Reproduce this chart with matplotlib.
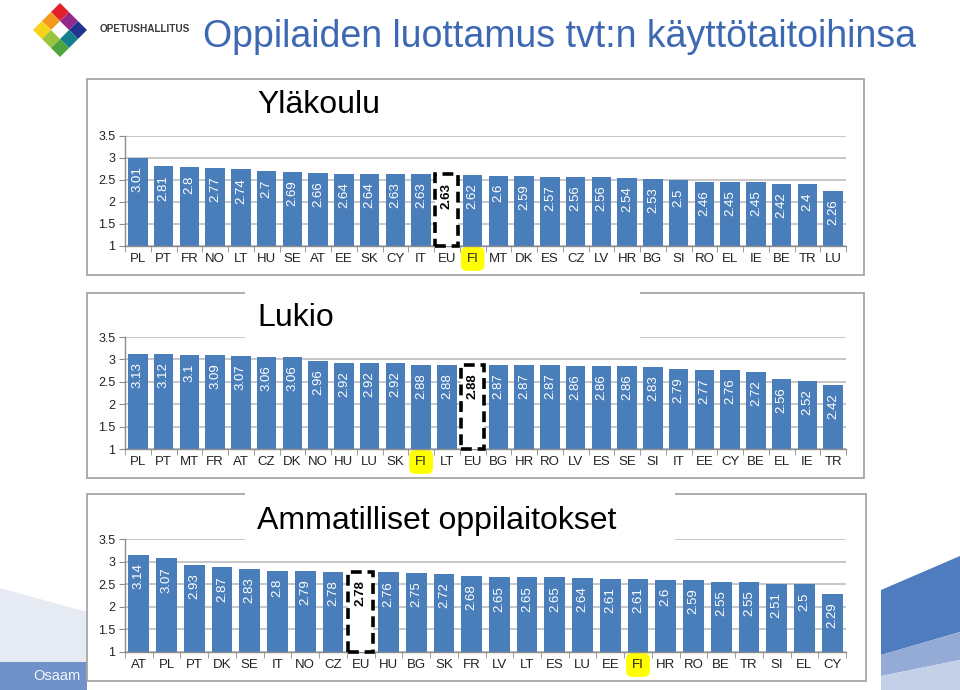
import matplotlib
matplotlib.use("Agg")
import matplotlib.pyplot as plt
from matplotlib.patches import Rectangle, Polygon

plt.rcParams['font.family'] = ['Liberation Sans', 'DejaVu Sans']

title = "Oppilaiden luottamus tvt:n käyttötaitoihinsa"

# Yläkoulu
yk_labels = ["PL", "PT", "FR", "NO", "LT", "HU", "SE", "AT", "EE", "SK", "CY", "IT", "EU", "FI",
             "MT", "DK", "ES", "CZ", "LV", "HR", "BG", "SI", "RO", "EL", "IE", "BE", "TR", "LU"]
yk_values = [3.01, 2.81, 2.8, 2.77, 2.74, 2.7, 2.69, 2.66, 2.64, 2.64, 2.63, 2.63, 2.63, 2.62,
             2.6, 2.59, 2.57, 2.56, 2.56, 2.54, 2.53, 2.5, 2.46, 2.45, 2.45, 2.42, 2.4, 2.26]

# Lukio
lu_labels = ["PL", "PT", "MT", "FR", "AT", "CZ", "DK", "NO", "HU", "LU", "SK", "FI", "LT", "EU",
             "BG", "HR", "RO", "LV", "ES", "SE", "SI", "IT", "EE", "CY", "BE", "EL", "IE", "TR"]
lu_values = [3.13, 3.12, 3.1, 3.09, 3.07, 3.06, 3.06, 2.96, 2.92, 2.92, 2.92, 2.88, 2.88, 2.88,
             2.87, 2.87, 2.87, 2.86, 2.86, 2.86, 2.83, 2.79, 2.77, 2.76, 2.72, 2.56, 2.52, 2.42]

# Ammatilliset oppilaitokset
am_labels = ["AT", "PL", "PT", "DK", "SE", "IT", "NO", "CZ", "EU", "HU", "BG", "SK", "FR",
             "LV", "LT", "ES", "LU", "EE", "FI", "HR", "RO", "BE", "TR", "SI", "EL", "CY"]
am_values = [3.14, 3.07, 2.93, 2.87, 2.83, 2.8, 2.79, 2.78, 2.78, 2.76, 2.75, 2.72, 2.68,
             2.65, 2.65, 2.65, 2.64, 2.61, 2.61, 2.6, 2.59, 2.55, 2.55, 2.51, 2.5, 2.29]

yticks = [1, 1.5, 2, 2.5, 3, 3.5]

W, H = 960, 690
fig = plt.figure(figsize=(W / 100, H / 100), dpi=100)


def fx(x):
    return x / W


def fy(y):
    return 1 - y / H


def fig_poly(pts, color, z):
    fig.patches.append(Polygon([(fx(a), fy(b)) for a, b in pts], closed=True,
                               transform=fig.transFigure, fc=color, ec='none', zorder=z))


def fig_rect(x0, y0, x1, y1, fc, ec='none', lw=0, z=-1):
    r = Rectangle((fx(x0), fy(y1)), fx(x1) - fx(x0), fy(y0) - fy(y1),
                  transform=fig.transFigure, fc=fc, ec=ec, lw=lw, zorder=z)
    fig.patches.append(r)
    return r


# slide decorations
fig_poly([(0, 588), (87, 612), (87, 662), (0, 662)], '#E6EAF3', -5)
band = fig_rect(0, 662, 87, 690, '#7092C8', z=-4)
t = fig.text(fx(33), fy(676), "Osaam", fontsize=10.5,
             color='#F2F5FB', va='center', ha='left', zorder=-3)
t.set_clip_path(band)
fig_poly([(881, 590), (960, 556), (960, 632), (881, 655)], '#4F7BBF', -5)
fig_poly([(881, 655), (960, 632), (960, 660), (881, 676)], '#93ABD5', -5)
fig_poly([(881, 676), (960, 660), (960, 690), (881, 690)], '#C3D0E8', -5)

# logo: diamond of coloured squares, white centre
cx, cy, d = 60, 30, 9
logo_cols = {(0, -2): '#E3202A', (-1, -1): '#F39A1E', (1, -1): '#932A8A',
             (-2, 0): '#F7D31B', (2, 0): '#21348F',
             (-1, 1): '#9BC43C', (1, 1): '#157F8C', (0, 2): '#4CA63C'}
for (i, j), c in logo_cols.items():
    px = cx + i * d
    py = cy + j * d
    fig_poly([(px, py - d), (px + d, py), (px, py + d), (px - d, py)], c, 1)
fig.text(fx(100), fy(29), "OPETUSHALLITUS", fontsize=7.2, weight='bold', color='#3A3A3A',
         va='center', ha='left')

fig.text(fx(203), fy(37), title, fontsize=27, color='#3D68B2', va='center', ha='left')


def panel(frame, ax_y, name, name_y, gap, labels, values):
    x0, y0, x1, y1 = frame
    fig_rect(x0, y0, x1, y1, 'white', ec='#A6A6A6', lw=1.3, z=-1)
    if gap is not None:
        fig_rect(gap[0], y0 - 4, gap[1], ax_y[0] + 4, 'white', z=1)
    fig.text(fx(257), fy(name_y), name, fontsize=23, color='black', va='center',
             ha='left', zorder=2)

    top, bot = ax_y
    ax = fig.add_axes([fx(125), fy(bot), fx(846) - fx(125), fy(top) - fy(bot)])
    ax.patch.set_visible(False)
    n = len(labels)
    pos = list(range(n))
    cols = ['none' if l == "EU" else '#4A7EBB' for l in labels]
    ax.bar(pos, [v - 1 for v in values], bottom=1, width=0.75, color=cols, zorder=2)
    for i, (l, v) in enumerate(zip(labels, values)):
        if l == "EU":
            ax.add_patch(Rectangle((i - 0.45, 1), 0.9, v - 1, fc='white', ec='black',
                                   lw=2.6, ls=(0, (3, 1.6)), zorder=3, clip_on=False))
            col, wt = 'black', 'bold'
        else:
            col, wt = 'white', 'normal'
        ax.annotate(f"{v:g}", (i, v), xytext=(0, -6), textcoords='offset points',
                    rotation=90, ha='center', va='top', color=col, fontsize=9.5,
                    weight=wt, zorder=4)

    ax.set_xlim(-0.5, n - 0.5)
    ax.set_ylim(1, 3.5)
    ax.set_yticks(yticks)
    ax.set_yticklabels([f"{t:g}" for t in yticks])
    ax.set_xticks(pos)
    ax.set_xticklabels(labels)
    ax.set_xticks([p - 0.5 for p in range(n + 1)], minor=True)
    ax.tick_params(axis='x', which='major', length=0, pad=5, labelsize=9.5, labelcolor='#222222')
    ax.tick_params(axis='x', which='minor', length=4, color='#8C8C8C', direction='out')
    ax.tick_params(axis='y', length=4, color='#8C8C8C', pad=3, labelsize=9,
                   labelcolor='#222222')
    ax.grid(axis='y', color='#BDBDBD', lw=1.2, zorder=0)
    ax.set_axisbelow(True)
    for sp in ['top', 'right']:
        ax.spines[sp].set_visible(False)
    for sp in ['left', 'bottom']:
        ax.spines[sp].set_color('#8C8C8C')
        ax.spines[sp].set_linewidth(1.0)
    for t in ax.get_xticklabels():
        if t.get_text() == "FI":
            t.set_bbox(dict(boxstyle='round,pad=0.45', fc='#FFFF00', ec='none'))
    return ax


panel((87, 79, 864, 275), (136, 246), "Yläkoulu", 105, None, yk_labels, yk_values)
panel((87, 293, 864, 478), (337, 449), "Lukio", 318, (245, 640), lu_labels, lu_values)
panel((87, 494, 866, 681), (539, 652), "Ammatilliset oppilaitokset", 521, (245, 675),
      am_labels, am_values)

fig.savefig("out.png", dpi=100)
